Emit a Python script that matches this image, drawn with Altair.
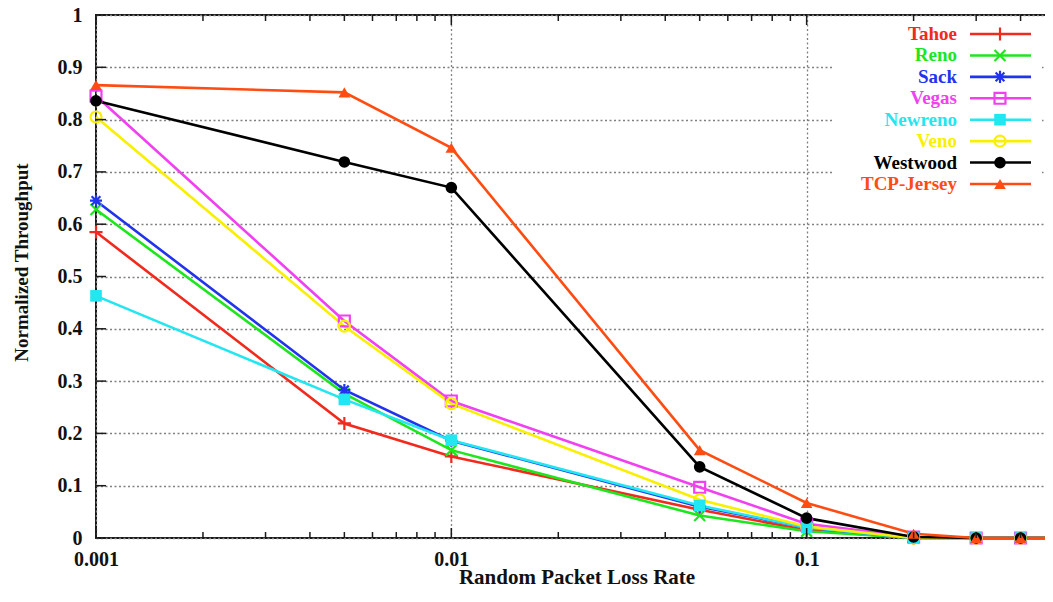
import altair as alt
import pandas as pd

# ---------------- data ----------------
loss_rate = [0.001, 0.005, 0.01, 0.05, 0.1, 0.2, 0.3, 0.4, 0.5]
series_names = ["Tahoe", "Reno", "Sack", "Vegas", "Newreno", "Veno", "Westwood", "TCP-Jersey"]

tahoe = [0.585, 0.219, 0.156, 0.054, 0.015, 0.0, 0.0, 0.0, 0.0]
reno = [0.628, 0.276, 0.168, 0.043, 0.013, 0.0, 0.0, 0.0, 0.0]
sack = [0.645, 0.283, 0.186, 0.060, 0.020, 0.0, 0.0, 0.0, 0.0]
vegas = [0.845, 0.415, 0.262, 0.097, 0.027, 0.002, 0.0, 0.0, 0.0]
newreno = [0.463, 0.265, 0.187, 0.062, 0.020, 0.0, 0.0, 0.0, 0.0]
veno = [0.805, 0.405, 0.257, 0.073, 0.022, 0.0, 0.0, 0.0, 0.0]
westwood = [0.836, 0.719, 0.670, 0.136, 0.038, 0.002, 0.0, 0.0, 0.0]
tcp_jersey = [0.866, 0.852, 0.746, 0.168, 0.067, 0.008, 0.0, 0.0, 0.0]

series_values = [tahoe, reno, sack, vegas, newreno, veno, westwood, tcp_jersey]

colors = ["#f02a1c", "#1ee61e", "#2233ee", "#f040f0", "#22e6f0", "#f8f000", "#000000", "#ff4c12"]
shapes = [
    "M-1.2,0H1.2M0,-1.2V1.2",
    "M-1,-1L1,1M-1,1L1,-1",
    "M-1.1,0H1.1M0,-1.1V1.1M-0.8,-0.8L0.8,0.8M-0.8,0.8L0.8,-0.8",
    "square",
    "square",
    "circle",
    "circle",
    "triangle-up",
]
open_series = ["Tahoe", "Reno", "Sack", "Vegas", "Veno"]
filled_series = ["Newreno", "Westwood", "TCP-Jersey"]

x_major = [0.001, 0.01, 0.1]
x_minor = [0.002, 0.003, 0.004, 0.005, 0.006, 0.007, 0.008, 0.009,
           0.02, 0.03, 0.04, 0.05, 0.06, 0.07, 0.08, 0.09,
           0.2, 0.3, 0.4]
y_ticks = [0.0, 0.1, 0.2, 0.3, 0.4, 0.5, 0.6, 0.7, 0.8, 0.9, 1.0]

rows = []
for name, vals in zip(series_names, series_values):
    for r, v in zip(loss_rate, vals):
        rows.append({"series": name, "rate": r, "throughput": v})
df = pd.DataFrame(rows)
legend_df = pd.DataFrame({"series": series_names})

# ---------------- layout ----------------
W, H = 959, 523
FONT = "Liberation Serif"
TICK_COLOR = "#1a1a1a"

x_scale = alt.Scale(type="log", domain=[0.001, 0.5], nice=False)
y_scale = alt.Scale(domain=[0, 1], nice=False, zero=False)
color_scale = alt.Scale(domain=series_names, range=colors)
shape_scale = alt.Scale(domain=series_names, range=shapes)

x_axis = alt.Axis(
    values=x_major, format="~g", title="Random Packet Loss Rate",
    labelBaseline="alphabetic", labelPadding=27, labelFlush=False, tickSize=0,
    titleX=W / 2 + 1, titleY=45, titleBaseline="alphabetic", titleFontSize=21,
)
x_enc = alt.X("rate:Q", scale=x_scale, axis=x_axis)
y_main = alt.Y(
    "throughput:Q", scale=y_scale,
    axis=alt.Axis(values=y_ticks, format="~g", title="Normalized Throughput",
                  labelPadding=14, labelFlush=False, tickSize=0,
                  titleX=-75, titleY=247, titleAngle=-90, titleFontSize=19,
                  titleAlign="center", titleBaseline="middle"),
)
y_plain = alt.Y("throughput:Q", scale=y_scale, axis=None)
color_enc = alt.Color("series:N", scale=color_scale, legend=None)
shape_enc = alt.Shape("series:N", scale=shape_scale, legend=None)

# white legend box (hides grid behind key)
box = alt.Chart(pd.DataFrame({"k": [0]})).mark_rect(color="white").encode(
    x=alt.value(736), x2=alt.value(946), y=alt.value(5), y2=alt.value(182)
)

lines = alt.Chart(df).mark_line(strokeWidth=2.6).encode(
    x=x_enc, y=y_main, color=color_enc
)
pts_open = alt.Chart(df).transform_filter(
    alt.FieldOneOfPredicate(field="series", oneOf=open_series)
).mark_point(filled=False, strokeWidth=2.2, size=120, opacity=1).encode(
    x=x_enc, y=y_plain, color=color_enc, shape=shape_enc
)
pts_filled = alt.Chart(df).transform_filter(
    alt.FieldOneOfPredicate(field="series", oneOf=filled_series)
).mark_point(filled=True, size=135, opacity=1).encode(
    x=x_enc, y=y_plain, color=color_enc, shape=shape_enc
)

# inward ticks (gnuplot style)
xmaj_df = pd.DataFrame({"rate": x_major})
xmin_df = pd.DataFrame({"rate": x_minor})
ytk_df = pd.DataFrame({"throughput": y_ticks})
tick_style = dict(color=TICK_COLOR, strokeWidth=1.5)
xt_bot_major = alt.Chart(xmaj_df).mark_rule(**tick_style).encode(
    x=x_enc, y=alt.value(H), y2=alt.value(H - 10))
xt_bot_minor = alt.Chart(xmin_df).mark_rule(**tick_style).encode(
    x=x_enc, y=alt.value(H), y2=alt.value(H - 6))
xt_top_major = alt.Chart(xmaj_df).mark_rule(**tick_style).encode(
    x=x_enc, y=alt.value(0), y2=alt.value(10))
xt_top_minor = alt.Chart(xmin_df).mark_rule(**tick_style).encode(
    x=x_enc, y=alt.value(0), y2=alt.value(6))
yt_left = alt.Chart(ytk_df).mark_rule(**tick_style).encode(
    y=y_plain, x=alt.value(0), x2=alt.value(10))
yt_right = alt.Chart(ytk_df).mark_rule(**tick_style).encode(
    y=y_plain, x=alt.value(W - 10), x2=alt.value(W))

# key
leg_y = alt.Y("series:N", scale=alt.Scale(type="point", domain=series_names,
                                          range=[19, 169], padding=0), axis=None)
leg_text = alt.Chart(legend_df).mark_text(
    align="right", baseline="middle", font=FONT, fontSize=19, fontWeight="bold"
).encode(x=alt.value(861), y=leg_y, text="series:N", color=color_enc)
leg_line = alt.Chart(legend_df).mark_rule(strokeWidth=2.6).encode(
    x=alt.value(874), x2=alt.value(935), y=leg_y, color=color_enc)
leg_open = alt.Chart(legend_df).transform_filter(
    alt.FieldOneOfPredicate(field="series", oneOf=open_series)
).mark_point(filled=False, strokeWidth=2.2, size=120, opacity=1).encode(
    x=alt.value(904), y=leg_y, color=color_enc, shape=shape_enc)
leg_filled = alt.Chart(legend_df).transform_filter(
    alt.FieldOneOfPredicate(field="series", oneOf=filled_series)
).mark_point(filled=True, size=135, opacity=1).encode(
    x=alt.value(904), y=leg_y, color=color_enc, shape=shape_enc)

chart = alt.layer(
    box, lines, pts_open, pts_filled,
    xt_bot_major, xt_bot_minor, xt_top_major, xt_top_minor, yt_left, yt_right,
    leg_line, leg_open, leg_filled, leg_text,
).resolve_scale(y="independent").properties(
    width=W, height=H,
    autosize=alt.AutoSizeParams(type="none"),
    padding={"left": 88, "top": 7, "right": -10, "bottom": 57},
).configure_view(
    stroke="#1a1a1a", strokeWidth=2
).configure_axis(
    domain=False, ticks=False,
    grid=True, gridColor="#808080", gridDash=[2, 2.5], gridWidth=1.3,
    labelFont=FONT, labelFontSize=20, labelFontWeight="bold", labelColor="#111111",
    titleFont=FONT, titleFontSize=20, titleFontWeight="bold", titleColor="#111111",
)

chart.save("out.html", embed_options={"renderer": "svg", "actions": False})
